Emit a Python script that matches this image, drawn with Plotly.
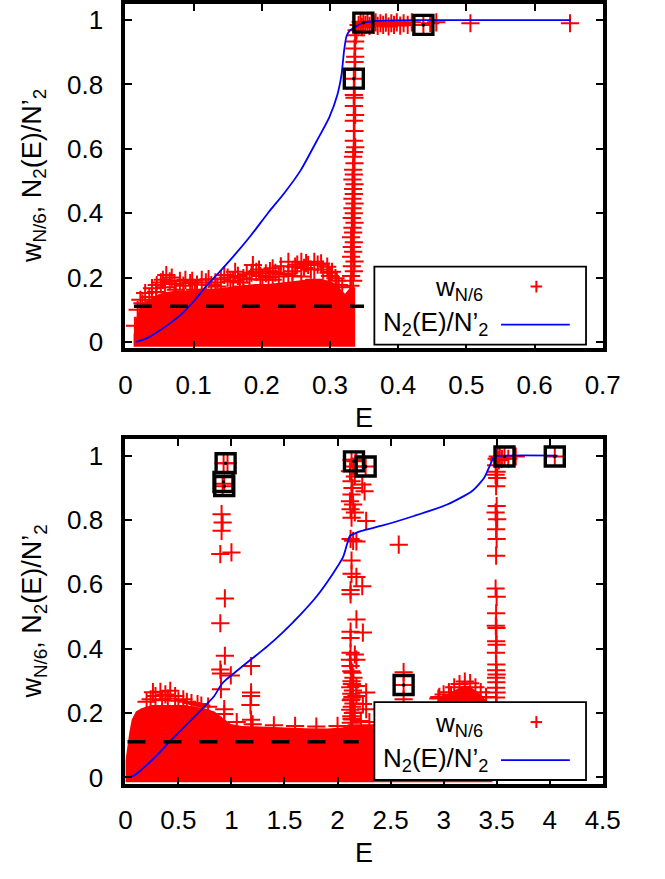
import plotly.graph_objects as go

# ---------------- data: top panel ----------------
top_curve_E = [0.0156, 0.0318, 0.0468, 0.0648, 0.0828, 0.1009, 0.1189, 0.1369, 0.1609, 0.1849,
               0.2089, 0.2329, 0.2570, 0.2810, 0.2990, 0.3110, 0.3170, 0.3206, 0.3242, 0.3290,
               0.3380, 0.3470, 0.3650, 0.4250, 0.6530]
top_curve_N = [0.000, 0.012, 0.031, 0.057, 0.087, 0.128, 0.174, 0.215, 0.272, 0.333,
               0.400, 0.462, 0.533, 0.626, 0.698, 0.769, 0.831, 0.903, 0.949, 0.967,
               0.980, 0.990, 0.997, 1.000, 1.000]

top_cloud_E = [0.012, 0.015, 0.020, 0.026, 0.033, 0.041, 0.050, 0.060, 0.075, 0.090, 0.110, 0.130,
               0.150, 0.170, 0.190, 0.210, 0.230, 0.250, 0.270, 0.290, 0.305, 0.315, 0.322, 0.330, 0.337]
top_cloud_hi = [0.020, 0.070, 0.100, 0.120, 0.130, 0.140, 0.150, 0.155, 0.160, 0.160, 0.165, 0.165,
                0.170, 0.175, 0.180, 0.180, 0.185, 0.190, 0.195, 0.195, 0.185, 0.165, 0.150, 0.170, 0.170]
top_cloud_lo = [-0.015, -0.015, -0.015, -0.015, -0.015, -0.015, -0.015, -0.015, -0.015,
                -0.015, -0.015, -0.015, -0.015, -0.015, -0.015, -0.015, -0.015, -0.015,
                -0.015, -0.015, -0.015, -0.015, -0.015, -0.015, -0.015]

top_w_E = [0.060, 0.055, 0.065, 0.046, 0.088, 0.095, 0.112, 0.126, 0.145, 0.154, 0.161, 0.173, 0.187,
           0.192, 0.206, 0.216, 0.225, 0.239, 0.249, 0.258, 0.268, 0.277, 0.287, 0.296, 0.303, 0.308,
           0.313, 0.258, 0.277, 0.173, 0.135, 0.239, 0.201, 0.022, 0.029, 0.039, 0.074, 0.102, 0.216,
           0.035, 0.045, 0.052, 0.058, 0.068, 0.072, 0.080, 0.085, 0.098, 0.105, 0.118, 0.122, 0.132,
           0.140, 0.150, 0.158, 0.165, 0.168, 0.178, 0.182, 0.196, 0.198, 0.210, 0.212, 0.220, 0.228,
           0.232, 0.245, 0.252, 0.262, 0.265, 0.272, 0.282, 0.290, 0.298, 0.300, 0.310, 0.318, 0.245,
           0.185, 0.018, 0.025, 0.014,
           0.330, 0.334, 0.331, 0.335, 0.332, 0.336, 0.331, 0.334, 0.332, 0.335, 0.331, 0.334, 0.333,
           0.336, 0.332, 0.335, 0.333, 0.336, 0.333, 0.335, 0.334, 0.336, 0.333, 0.335, 0.334, 0.336,
           0.334, 0.335, 0.337, 0.335, 0.336, 0.335, 0.337, 0.335, 0.336, 0.335, 0.336, 0.335, 0.337,
           0.336, 0.337, 0.336, 0.337, 0.338, 0.339,
           0.342, 0.345, 0.347, 0.349, 0.352, 0.355, 0.358, 0.361, 0.364, 0.367, 0.370, 0.374, 0.378,
           0.382, 0.386, 0.390, 0.394, 0.398, 0.403, 0.408, 0.414, 0.420, 0.437, 0.447, 0.456, 0.506, 0.652]
top_w_v = [0.208, 0.193, 0.188, 0.177, 0.193, 0.183, 0.193, 0.177, 0.208, 0.188, 0.218, 0.198, 0.239,
           0.218, 0.213, 0.229, 0.203, 0.249, 0.234, 0.249, 0.239, 0.249, 0.244, 0.234, 0.218, 0.198,
           0.177, 0.203, 0.193, 0.172, 0.172, 0.213, 0.193, 0.131, 0.152, 0.167, 0.162, 0.162, 0.193,
           0.140, 0.155, 0.185, 0.170, 0.200, 0.180, 0.190, 0.175, 0.190, 0.178, 0.185, 0.195, 0.185,
           0.195, 0.200, 0.190, 0.205, 0.185, 0.210, 0.195, 0.225, 0.205, 0.200, 0.220, 0.215, 0.235,
           0.210, 0.220, 0.240, 0.230, 0.245, 0.225, 0.240, 0.225, 0.215, 0.205, 0.190, 0.170, 0.205,
           0.215, 0.100, 0.120, 0.050,
           0.175, 0.190, 0.205, 0.220, 0.235, 0.250, 0.265, 0.280, 0.295, 0.310, 0.325, 0.340, 0.355,
           0.370, 0.385, 0.400, 0.415, 0.430, 0.445, 0.460, 0.475, 0.490, 0.505, 0.520, 0.535, 0.555,
           0.575, 0.590, 0.605, 0.625, 0.655, 0.687, 0.705, 0.733, 0.759, 0.767, 0.788, 0.818, 0.845,
           0.870, 0.886, 0.912, 0.933, 0.953, 0.968,
           0.985, 0.995, 0.978, 0.990, 0.985, 0.995, 0.982, 0.990, 0.985, 0.993, 0.982, 0.990, 0.985,
           0.992, 0.980, 0.990, 0.985, 0.993, 0.983, 0.990, 0.985, 0.993, 0.985, 0.990, 0.993, 0.990, 0.990]

top_sq_E = [0.349, 0.437, 0.335]
top_sq_v = [0.992, 0.985, 0.818]

top_dash_E = [0.0125, 0.350]

# ---------------- data: bottom panel ----------------
bot_curve_E = [0.031, 0.089, 0.185, 0.300, 0.416, 0.570, 0.724, 0.840, 0.897, 0.936, 1.032, 1.186,
               1.340, 1.494, 1.648, 1.802, 1.956, 2.053, 2.091, 2.118, 2.149, 2.226, 2.418, 2.727,
               3.034, 3.266, 3.381, 3.439, 3.477, 3.600, 4.074]
bot_curve_N = [0.000, 0.008, 0.034, 0.070, 0.111, 0.162, 0.213, 0.254, 0.285, 0.300, 0.326, 0.367,
               0.408, 0.454, 0.505, 0.562, 0.633, 0.685, 0.726, 0.751, 0.756, 0.766, 0.782, 0.813,
               0.848, 0.889, 0.930, 0.971, 0.997, 1.000, 1.000]

bot_cloud_E = [0.000, 0.010, 0.020, 0.037, 0.060, 0.099, 0.150, 0.191, 0.250, 0.300, 0.350, 0.407,
               0.470, 0.562, 0.650, 0.747, 0.840, 0.901, 0.994, 1.100, 1.300, 1.500, 1.700, 1.900,
               2.050, 2.100, 2.170, 2.250, 2.350, 2.600, 2.900, 2.940, 2.970, 3.020, 3.060, 3.120,
               3.180, 3.240, 3.300, 3.360, 3.410, 3.440, 3.460]
bot_cloud_hi = [0.050, 0.080, 0.110, 0.140, 0.180, 0.205, 0.215, 0.220, 0.225, 0.225, 0.225, 0.225,
                0.225, 0.225, 0.220, 0.215, 0.205, 0.190, 0.166, 0.160, 0.157, 0.155, 0.153, 0.152,
                0.155, 0.165, 0.165, 0.165, 0.165, 0.165, 0.200, 0.235, 0.245, 0.255, 0.262, 0.275,
                0.285, 0.285, 0.270, 0.255, 0.235, 0.200, 0.150]
bot_cloud_lo = [-0.015, -0.015, -0.015, -0.015, -0.015, -0.015, -0.015, -0.015, -0.015, -0.015,
                -0.015, -0.015, -0.015, -0.015, -0.015, -0.015, -0.015, -0.015, -0.015, -0.015,
                -0.015, -0.015, -0.015, -0.015, -0.015, -0.015, -0.015, -0.015, -0.015, -0.015,
                -0.015, -0.015, -0.015, -0.015, -0.015, -0.015, -0.015, -0.015, -0.015, -0.015,
                -0.015, -0.015, -0.015]

bot_w_E = [
    # fringe of the low-energy cloud
    0.238, 0.284, 0.330, 0.377, 0.423, 0.469, 0.546, 0.346, 0.623, 0.716, 0.200, 0.260, 0.400,
    0.500, 0.580, 0.680, 0.780, 1.050, 1.200, 1.400, 1.600, 1.800, 2.000, 2.220, 2.300,
    # bump near E = 3.2
    2.960, 3.000, 3.050, 3.100, 3.150, 3.200, 3.250, 3.300, 3.350, 3.400, 2.950, 3.070,
    # spike near E = 0.92
    0.926, 0.963, 0.932, 0.917, 0.907, 0.917, 0.907, 0.895, 1.000, 0.938, 0.895, 0.938, 0.895,
    0.901, 0.994, 1.185, 0.901, 1.185, 1.185, 1.179, 0.932, 0.932, 1.185,
    # spike near E = 2.13
    2.132, 2.178, 2.147, 2.117, 2.163, 2.132, 2.233, 2.141, 2.255, 2.132, 2.117, 2.147, 2.123,
    2.163, 2.132, 2.270, 2.123, 2.147, 2.178, 2.577, 2.132, 2.132, 2.178, 2.233, 2.123, 2.123,
    2.178, 2.123, 2.239, 2.123, 2.123, 2.163, 2.117, 2.178, 2.123, 2.141, 2.132, 2.178, 2.270,
    2.178, 2.132, 2.239, 2.270, 2.163, 2.132, 2.169, 2.265, 2.623, 2.623, 2.623,
    2.125, 2.140, 2.130, 2.145, 2.120, 2.135, 2.150, 2.125, 2.140, 2.130, 2.145, 2.120, 2.135,
    2.150, 2.130,
    # spike near E = 3.5
    3.495, 3.500, 3.490, 3.505, 3.495, 3.500, 3.495, 3.490, 3.500, 3.495, 3.492, 3.498, 3.495,
    3.500, 3.493, 3.497, 3.495, 3.500, 3.494, 3.497, 3.495, 3.499, 3.494, 3.497, 3.495,
    3.500, 3.510, 3.520, 3.530, 3.550, 3.574, 3.610, 3.680, 4.048, 3.495, 3.500, 3.490, 3.505]
bot_w_v = [
    0.243, 0.253, 0.266, 0.258, 0.269, 0.253, 0.243, 0.240, 0.231, 0.223, 0.235, 0.265, 0.245,
    0.238, 0.235, 0.228, 0.220, 0.172, 0.165, 0.162, 0.160, 0.158, 0.160, 0.175, 0.172,
    0.250, 0.258, 0.265, 0.280, 0.290, 0.298, 0.293, 0.280, 0.265, 0.250, 0.245, 0.255,
    0.976, 0.976, 0.912, 0.905, 0.818, 0.792, 0.766, 0.694, 0.699, 0.556, 0.479, 0.378, 0.335,
    0.323, 0.317, 0.346, 0.274, 0.264, 0.253, 0.225, 0.212, 0.197, 0.179,
    0.987, 0.987, 0.966, 0.951, 0.935, 0.920, 0.910, 0.899, 0.889, 0.879, 0.858, 0.848, 0.833,
    0.823, 0.807, 0.797, 0.741, 0.735, 0.733, 0.723, 0.674, 0.633, 0.623, 0.594, 0.582, 0.569,
    0.491, 0.453, 0.450, 0.433, 0.387, 0.382, 0.366, 0.366, 0.346, 0.325, 0.299, 0.284, 0.264,
    0.253, 0.243, 0.228, 0.212, 0.202, 0.182, 0.982, 0.966, 0.287, 0.327, 0.243,
    0.170, 0.180, 0.190, 0.200, 0.210, 0.220, 0.230, 0.240, 0.250, 0.260, 0.270, 0.280, 0.290,
    0.310, 0.330,
    0.905, 0.843, 0.823, 0.802, 0.771, 0.741, 0.689, 0.587, 0.561, 0.510, 0.471, 0.464, 0.423,
    0.412, 0.387, 0.351, 0.333, 0.320, 0.310, 0.296, 0.279, 0.264, 0.248, 0.230, 0.215,
    0.990, 0.997, 0.985, 0.995, 0.990, 0.997, 0.990, 0.997, 0.997, 0.970, 0.950, 0.940, 0.930]

bot_sq_E = [0.945, 0.925, 0.932, 2.155, 2.265, 2.623, 3.574, 4.048]
bot_sq_v = [0.976, 0.918, 0.905, 0.982, 0.966, 0.287, 0.997, 0.997]

bot_dash_E = [0.020, 2.200]
dash_level = [0.111, 0.111]

x_ticks_top = [0, 0.1, 0.2, 0.3, 0.4, 0.5, 0.6, 0.7]
x_labels_top = ["0", "0.1", "0.2", "0.3", "0.4", "0.5", "0.6", "0.7"]
x_ticks_bot = [0, 0.5, 1, 1.5, 2, 2.5, 3, 3.5, 4, 4.5]
x_labels_bot = ["0", "0.5", "1", "1.5", "2", "2.5", "3", "3.5", "4", "4.5"]
y_ticks = [0, 0.2, 0.4, 0.6, 0.8, 1]
y_labels = ["0", "0.2", "0.4", "0.6", "0.8", "1"]

# ---------------- figure ----------------
W, H = 665, 879
FONT = "Liberation Sans, Arial, sans-serif"
FS = 26
FST = 27
FSK = 26
RED = "#ff0000"
BLUE = "#0000ff"

fig = go.Figure()


def add_panel(xa, ya, cE, chi, clo, wE, wv, curE, curN, sqE, sqv, dE):
    fig.add_trace(go.Scatter(x=cE + cE[::-1], y=chi + clo[::-1], fill="toself", mode="lines",
                             line=dict(width=0, color=RED), fillcolor=RED, hoverinfo="skip",
                             showlegend=False, xaxis=xa, yaxis=ya))
    fig.add_trace(go.Scatter(x=wE, y=wv, mode="markers", showlegend=False, xaxis=xa, yaxis=ya,
                             marker=dict(symbol="cross-thin", size=13, color=RED,
                                         line=dict(width=2, color=RED))))
    fig.add_trace(go.Scatter(x=curE, y=curN, mode="lines", showlegend=False, xaxis=xa, yaxis=ya,
                             line=dict(color=BLUE, width=1.8, shape="spline", smoothing=0.6)))
    fig.add_trace(go.Scatter(x=dE, y=dash_level, mode="lines", showlegend=False, xaxis=xa, yaxis=ya,
                             line=dict(color="black", width=3.5, dash="18px,18px")))
    fig.add_trace(go.Scatter(x=sqE, y=sqv, mode="markers", showlegend=False, xaxis=xa, yaxis=ya,
                             marker=dict(symbol="square-open", size=19, color="black",
                                         line=dict(width=3.4, color="black"))))
    fig.add_trace(go.Scatter(x=sqE, y=sqv, mode="markers", showlegend=False, xaxis=xa, yaxis=ya,
                             marker=dict(symbol="circle", size=3.5, color="black")))


add_panel("x", "y", top_cloud_E, top_cloud_hi, top_cloud_lo, top_w_E, top_w_v,
          top_curve_E, top_curve_N, top_sq_E, top_sq_v, top_dash_E)
add_panel("x2", "y2", bot_cloud_E, bot_cloud_hi, bot_cloud_lo, bot_w_E, bot_w_v,
          bot_curve_E, bot_curve_N, bot_sq_E, bot_sq_v, bot_dash_E)

x0, x1 = 123 / W, 619 / W
top_dom = [1 - 352 / H, 1 - 4 / H]
bot_dom = [1 - 792 / H, 1 - 444 / H]

axis_common = dict(showline=True, linewidth=4, linecolor="black", mirror="allticks",
                   ticks="inside", ticklen=7, tickwidth=1.5, tickcolor="black",
                   showgrid=False, zeroline=False,
                   tickfont=dict(family=FONT, size=FS, color="black"))

fig.update_layout(
    width=W, height=H, autosize=False,
    margin=dict(l=0, r=0, t=0, b=0),
    paper_bgcolor="white", plot_bgcolor="white",
    showlegend=False,
    xaxis=dict(domain=[x0, x1], range=[0, 0.7], tickvals=x_ticks_top, ticktext=x_labels_top,
               anchor="y", ticklabelstandoff=10, **axis_common),
    yaxis=dict(domain=top_dom, range=[-0.02, 1.05], tickvals=y_ticks, ticktext=y_labels,
               anchor="x", ticklabelstandoff=13, **axis_common),
    xaxis2=dict(domain=[x0, x1], range=[0, 4.5], tickvals=x_ticks_bot, ticktext=x_labels_bot,
                anchor="y2", ticklabelstandoff=10, **axis_common),
    yaxis2=dict(domain=bot_dom, range=[-0.02, 1.05], tickvals=y_ticks, ticktext=y_labels,
                anchor="x2", ticklabelstandoff=13, **axis_common),
)

ytitle = "w<sub>N/6</sub>, N<sub>2</sub>(E)/N\u2019<sub>2</sub>"
keytitle = "N<sub>2</sub>(E)/N\u2019<sub>2</sub>"
shapes = []
annotations = []
for xa, ya, dom in (("x", "y", top_dom), ("x2", "y2", bot_dom)):
    xd = xa + " domain"
    # opaque key box
    shapes.append(dict(type="rect", xref=xd, yref=ya, x0=0.5216, x1=0.965, y0=-0.008, y1=0.234,
                       fillcolor="white", line=dict(color="black", width=1.8), layer="above"))
    # key sample: blue line
    shapes.append(dict(type="line", xref=xd, yref=ya, x0=0.787, x1=0.931, y0=0.054, y1=0.054,
                       line=dict(color=BLUE, width=1.8), layer="above"))
    # key sample: red plus
    shapes.append(dict(type="line", xref=xd, yref=ya, x0=0.861 - 0.0121, x1=0.861 + 0.0121,
                       y0=0.172, y1=0.172, line=dict(color=RED, width=2), layer="above"))
    shapes.append(dict(type="line", xref=xd, yref=ya, x0=0.861, x1=0.861,
                       y0=0.172 - 0.0185, y1=0.172 + 0.0185, line=dict(color=RED, width=2),
                       layer="above"))
    annotations.append(dict(xref=xd, yref=ya, x=0.753, y=0.165, xanchor="right", yanchor="middle",
                            text="w<sub>N/6</sub>", showarrow=False,
                            font=dict(family=FONT, size=FSK, color="black")))
    annotations.append(dict(xref=xd, yref=ya, x=0.763, y=0.057, xanchor="right", yanchor="middle",
                            text=keytitle, showarrow=False,
                            font=dict(family=FONT, size=FSK, color="black")))
    # axis titles
    annotations.append(dict(xref="paper", yref="paper", x=28 / W, y=(dom[0] + dom[1]) / 2,
                            xanchor="center", yanchor="middle", textangle=-90, text=ytitle,
                            showarrow=False, font=dict(family=FONT, size=FST, color="black")))
    annotations.append(dict(xref="paper", yref="paper", x=(x0 + x1) / 2, y=dom[0] - 70 / H,
                            xanchor="center", yanchor="middle", text="E", showarrow=False,
                            font=dict(family=FONT, size=FST, color="black")))

fig.update_layout(shapes=shapes, annotations=annotations)
fig.write_html("out.html")
